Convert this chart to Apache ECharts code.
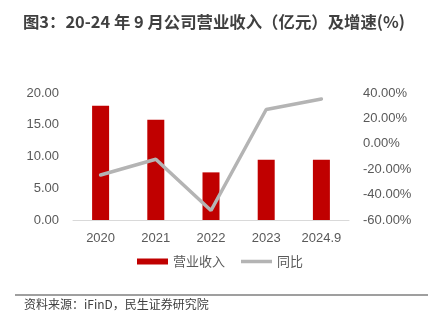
<!DOCTYPE html>
<html><head><meta charset="utf-8">
<script src="https://cdn.jsdelivr.net/npm/echarts@6/dist/echarts.min.js"></script>
<style>html,body{margin:0;padding:0;background:#fff}#c{width:428px;height:326px}</style>
</head><body><div id="c"></div>
<script>
var categories = ['2020','2021','2022','2023','2024.9'];
var revenue = [18.0, 15.8, 7.5, 9.5, 9.5];
var growth = [-24.6, -12.2, -52.5, 27.0, 35.3];
var leftTicks = {min:0, max:20, interval:5};
var rightTicks = {min:-60, max:40, interval:20};

var font = '"Liberation Sans", "Noto Sans CJK SC", sans-serif';
var lineIcon = 'path://M0,0 L31,0 L31,0.01 Z M0,1.3 L31,1.3 L31,4.7 L0,4.7 Z M0,6 L31,6 L31,5.99 Z';
var chart = echarts.init(document.getElementById('c'));
chart.setOption({
  animation:false,
  title:{text:'图3：20-24 年 9 月公司营业收入（亿元）及增速(%)', left:'center', top:9,
    textStyle:{fontSize:16.4, fontWeight:'bold', color:'#404040', fontFamily:'"Noto Sans CJK SC", sans-serif'}},
  grid:{left:73, right:79, top:93, bottom:106},
  legend:{bottom:53, left:132, itemGap:16, itemWidth:31, itemHeight:6,
    textStyle:{fontSize:13, color:'#595959', fontFamily:'"Noto Sans CJK SC", sans-serif'},
    data:[{name:'营业收入', icon:'rect'}, {name:'同比', icon:lineIcon}]},
  xAxis:{type:'category', data:categories,
    axisLine:{lineStyle:{color:'#d9d9d9', width:1}}, axisTick:{show:false},
    axisLabel:{color:'#595959', fontSize:13, margin:12, fontFamily:font}},
  yAxis:[
    {type:'value', min:leftTicks.min, max:leftTicks.max, interval:leftTicks.interval,
     splitLine:{show:false}, axisLine:{show:false}, axisTick:{show:false},
     axisLabel:{color:'#595959', fontSize:13, margin:14, fontFamily:font, formatter:function(v){return v.toFixed(2);}}},
    {type:'value', min:rightTicks.min, max:rightTicks.max, interval:rightTicks.interval,
     splitLine:{show:false}, axisLine:{show:false}, axisTick:{show:false},
     axisLabel:{color:'#595959', fontSize:13, margin:14, fontFamily:font, formatter:function(v){return v.toFixed(2)+'%';}}}
  ],
  series:[
    {name:'营业收入', type:'bar', data:revenue, barWidth:17, itemStyle:{color:'#c00000'}},
    {name:'同比', type:'line', yAxisIndex:1, data:growth, symbol:'none',
     lineStyle:{color:'#b4b4b4', width:3.5, cap:'round'}, itemStyle:{color:'#b4b4b4'}}
  ],
  graphic:[
    {type:'line', shape:{x1:15, y1:295, x2:428, y2:295}, style:{stroke:'#7f7f7f', lineWidth:1.5}},
    {type:'text', left:24, top:298, style:{text:'资料来源：iFinD，民生证券研究院', fill:'#404040', fontSize:12, fontFamily:'"Noto Sans CJK SC", sans-serif'}}
  ]
});
</script></body></html>
